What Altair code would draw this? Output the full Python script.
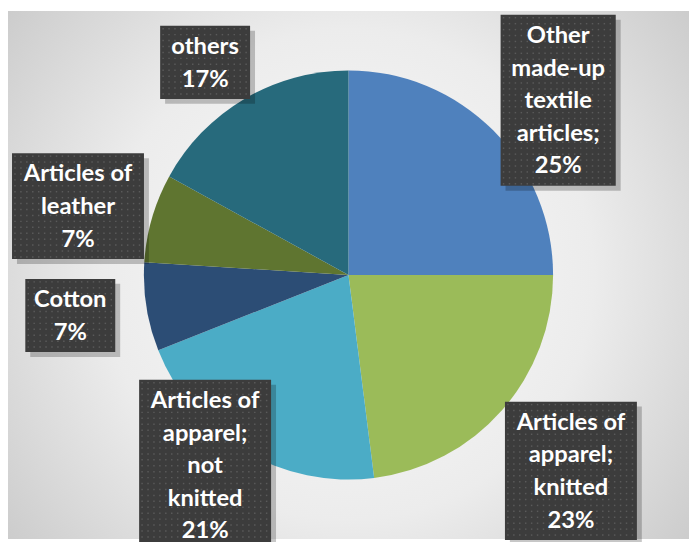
import altair as alt
import pandas as pd

# ---- data ----
categories = [
    "Other made-up textile articles",
    "Articles of apparel; knitted",
    "Articles of apparel; not knitted",
    "Cotton",
    "Articles of leather",
    "others",
]
label_lines = [
    "Other\nmade-up\ntextile\narticles;",
    "Articles of\napparel;\nknitted",
    "Articles of\napparel;\nnot\nknitted",
    "Cotton",
    "Articles of\nleather",
    "others",
]
shares = [25, 23, 21, 7, 7, 17]
colors = ["#4f81bd", "#9bbb59", "#4bacc6", "#2c4d75", "#5f7530", "#276a7c"]

# ---- layout ----
W, H = 689, 534
R = 207
LH = 33          # label line height
DOT = 6          # dot pattern spacing inside label boxes

df = pd.DataFrame({
    "category": categories,
    "lines": label_lines,
    "value": shares,
    "order": list(range(len(categories))),
})
df["label"] = df["lines"] + "\n" + df["value"].astype(str) + "%"
df["nlines"] = df["label"].str.count("\n") + 1
df["maxchars"] = df["label"].apply(lambda s: max(len(t) for t in s.split("\n")))

base = alt.Chart(df)

# background with radial gradient
bg = alt.Chart(alt.Data(values=[{"a": 1}])).mark_rect(
    color={
        "gradient": "radial",
        "x1": 0.5, "y1": 0.5, "r1": 0,
        "x2": 0.5, "y2": 0.5, "r2": 0.72,
        "stops": [
            {"offset": 0, "color": "#fbfbfb"},
            {"offset": 0.5, "color": "#ececec"},
            {"offset": 1, "color": "#c2c2c2"},
        ],
    }
).encode(x=alt.value(0), x2=alt.value(W), y=alt.value(0), y2=alt.value(H))

pie = base.mark_arc(outerRadius=R).encode(
    theta=alt.Theta("value:Q", stack=True),
    color=alt.Color("category:N", scale=alt.Scale(domain=categories, range=colors), legend=None),
    order=alt.Order("order:Q"),
)

lab = (
    base.transform_joinaggregate(total="sum(value)")
    .transform_window(cum="sum(value)", sort=[alt.SortField("order")], frame=[None, 0])
    .transform_calculate(ang="(datum.cum - datum.value/2) / datum.total * 2 * PI")
    .transform_calculate(bw="datum.maxchars * 8.5 + 40")
    .transform_calculate(bh=f"datum.nlines * {LH} + 8")
    .transform_calculate(rx="sin(datum.ang) >= 0 ? 300 : 285")
    .transform_calculate(ry="cos(datum.ang) >= 0 ? 250 : 250 + 75 * abs(cos(datum.ang))")
    .transform_calculate(lx=f"{W/2} + datum.rx * sin(datum.ang)")
    .transform_calculate(ly0=f"{H/2} - datum.ry * cos(datum.ang)")
    .transform_calculate(ly=f"min(datum.ly0, {H} - datum.bh / 2 + 12)")
    .transform_calculate(ty=f"datum.ly - (datum.nlines - 1) * {LH} / 2 + 1")
    .transform_calculate(bx0="datum.lx - datum.bw / 2", bx1="datum.lx + datum.bw / 2")
    .transform_calculate(by0="datum.ly - datum.bh / 2", by1="datum.ly + datum.bh / 2")
    .transform_calculate(sx0="datum.bx0 + 5", sx1="datum.bx1 + 5", sy0="datum.by0 + 5", sy1="datum.by1 + 5")
)

shadow = lab.mark_rect(color="#000000", opacity=0.22).encode(
    x=alt.X("sx0:Q", scale=None, axis=None), x2="sx1:Q",
    y=alt.Y("sy0:Q", scale=None, axis=None), y2="sy1:Q",
)
box = lab.mark_rect(color="#3c3c3c").encode(
    x=alt.X("bx0:Q", scale=None, axis=None), x2="bx1:Q",
    y=alt.Y("by0:Q", scale=None, axis=None), y2="by1:Q",
)

dots = (
    lab.transform_calculate(dxs=f"sequence({DOT/2}, datum.bw - 1, {DOT})")
    .transform_flatten(["dxs"])
    .transform_calculate(dys=f"sequence({DOT/2}, datum.bh - 1, {DOT})")
    .transform_flatten(["dys"])
    .transform_calculate(px="datum.bx0 + datum.dxs", py="datum.by0 + datum.dys")
    .mark_square(size=2.2, color="#5a5a5a", opacity=1)
    .encode(
        x=alt.X("px:Q", scale=None, axis=None),
        y=alt.Y("py:Q", scale=None, axis=None),
    )
)

txt = lab.mark_text(
    font="Lato", fontSize=24, fontWeight="bold", color="white",
    align="center", baseline="middle", lineBreak="\n", lineHeight=LH,
).encode(
    x=alt.X("lx:Q", scale=None, axis=None),
    y=alt.Y("ty:Q", scale=None, axis=None),
    text="label:N",
)

chart = alt.layer(bg, pie, shadow, box, dots, txt).properties(
    width=W, height=H, padding=0, autosize=alt.AutoSizeParams(type="none")
).configure_view(stroke=None)

chart.save("out.html", embed_options={"renderer": "svg", "actions": False})
